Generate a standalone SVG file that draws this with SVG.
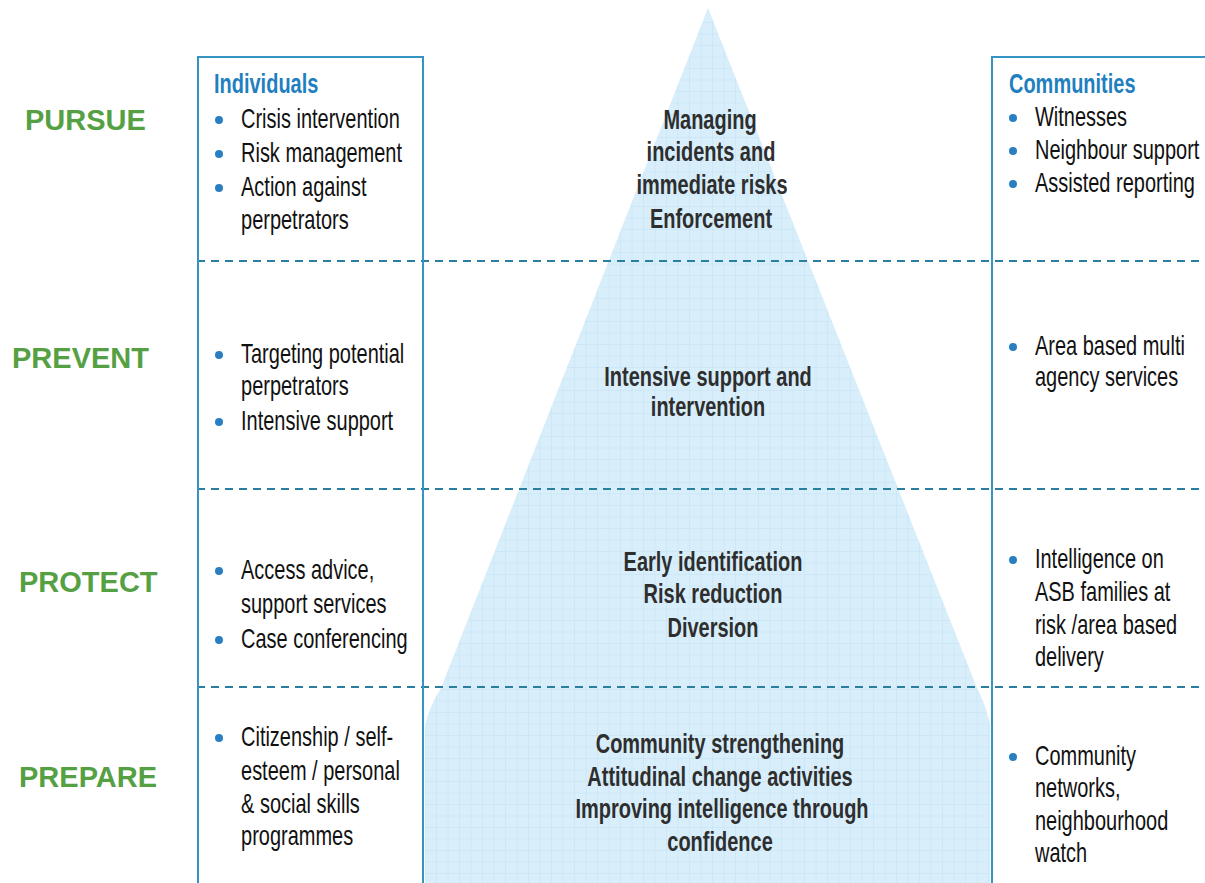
<svg xmlns="http://www.w3.org/2000/svg" width="1205" height="883" viewBox="0 0 1205 883">
<style>
.lbl{font-family:"Liberation Sans",Arial,sans-serif;font-weight:bold;font-size:29px;fill:#56a044}
.hdr{font-family:"Liberation Sans",Arial,sans-serif;font-weight:bold;font-size:27px;fill:#1f7fc0}
.txt{font-family:"Liberation Sans",Arial,sans-serif;font-size:27px;fill:#111}
.ctr{font-family:"Liberation Sans",Arial,sans-serif;font-weight:bold;font-size:27px;fill:#2e2e2e;text-anchor:middle}
.dot{fill:#2a7fc0}
.box{fill:none;stroke:#3594c4;stroke-width:2}
.dash{stroke:#2b7f9e;stroke-width:2;stroke-dasharray:8 6;fill:none}
</style>
<defs>
<pattern id="grid" x="0" y="0" width="11.5" height="11.5" patternUnits="userSpaceOnUse">
<rect width="11.5" height="11.5" fill="#d9eefb"/>
<path d="M11.5 0V11.5M0 11.5H11.5" stroke="#c3e1f3" stroke-width="1" fill="none"/>
</pattern>
</defs>
<rect width="1205" height="883" fill="#ffffff"/>
<g id="pyramid">
<path d="M708 8 L441 688 Q430 705 425 725 L425 883 L990 883 L990 725 Q986 705 977 688 Z" fill="url(#grid)"/>
</g>
<g id="connectors">
<line class="dash" x1="197" y1="261" x2="1205" y2="261"/>
<line class="dash" x1="197" y1="489" x2="1205" y2="489"/>
<line class="dash" x1="197" y1="687" x2="1205" y2="687"/>
</g>
<g id="labels">
<text class="lbl" x="25" y="130">PURSUE</text>
<text class="lbl" x="12" y="368">PREVENT</text>
<text class="lbl" x="19" y="592">PROTECT</text>
<text class="lbl" x="19" y="787">PREPARE</text>
</g>
<g id="individuals">
<path class="box" d="M198 884 V57 H423 V884"/>
<circle class="dot" cx="219" cy="120" r="4"/>
<circle class="dot" cx="219" cy="154" r="4"/>
<circle class="dot" cx="219" cy="188" r="4"/>
<circle class="dot" cx="219" cy="355" r="4"/>
<circle class="dot" cx="219" cy="422" r="4"/>
<circle class="dot" cx="219" cy="571" r="4"/>
<circle class="dot" cx="219" cy="640" r="4"/>
<circle class="dot" cx="219" cy="738" r="4"/>
<g transform="scale(0.74 1)">
<text class="hdr" x="289.2" y="93">Individuals</text>
<text class="txt" x="325.7" y="128">Crisis intervention</text>
<text class="txt" x="325.7" y="162">Risk management</text>
<text class="txt" x="325.7" y="196">Action against</text>
<text class="txt" x="325.7" y="229">perpetrators</text>
<text class="txt" x="325.7" y="363">Targeting potential</text>
<text class="txt" x="325.7" y="395">perpetrators</text>
<text class="txt" x="325.7" y="430">Intensive support</text>
<text class="txt" x="325.7" y="579">Access advice,</text>
<text class="txt" x="325.7" y="613">support services</text>
<text class="txt" x="325.7" y="648">Case conferencing</text>
<text class="txt" x="325.7" y="746">Citizenship / self-</text>
<text class="txt" x="325.7" y="780">esteem / personal</text>
<text class="txt" x="325.7" y="813">&amp; social skills</text>
<text class="txt" x="325.7" y="845">programmes</text>
</g>
</g>
<g id="communities">
<path class="box" d="M992 884 V57 H1206"/>
<circle class="dot" cx="1013" cy="118" r="4"/>
<circle class="dot" cx="1013" cy="151" r="4"/>
<circle class="dot" cx="1013" cy="184" r="4"/>
<circle class="dot" cx="1013" cy="347" r="4"/>
<circle class="dot" cx="1013" cy="560" r="4"/>
<circle class="dot" cx="1013" cy="757" r="4"/>
<g transform="scale(0.74 1)">
<text class="hdr" x="1363.5" y="93">Communities</text>
<text class="txt" x="1398.6" y="126">Witnesses</text>
<text class="txt" x="1398.6" y="159">Neighbour support</text>
<text class="txt" x="1398.6" y="192">Assisted reporting</text>
<text class="txt" x="1398.6" y="355">Area based multi</text>
<text class="txt" x="1398.6" y="386">agency services</text>
<text class="txt" x="1398.6" y="568">Intelligence on</text>
<text class="txt" x="1398.6" y="601">ASB families at</text>
<text class="txt" x="1398.6" y="634">risk /area based</text>
<text class="txt" x="1398.6" y="666">delivery</text>
<text class="txt" x="1398.6" y="765">Community</text>
<text class="txt" x="1398.6" y="797">networks,</text>
<text class="txt" x="1398.6" y="830">neighbourhood</text>
<text class="txt" x="1398.6" y="862">watch</text>
</g>
</g>
<g id="center">
<g transform="scale(0.74 1)">
<text class="ctr" x="959.5" y="129">Managing</text>
<text class="ctr" x="960.8" y="161">incidents and</text>
<text class="ctr" x="962.2" y="194">immediate risks</text>
<text class="ctr" x="960.8" y="228">Enforcement</text>
<text class="ctr" x="956.8" y="386">Intensive support and</text>
<text class="ctr" x="956.8" y="416">intervention</text>
<text class="ctr" x="963.5" y="571">Early identification</text>
<text class="ctr" x="963.5" y="603">Risk reduction</text>
<text class="ctr" x="963.5" y="637">Diversion</text>
<text class="ctr" x="973" y="753">Community strengthening</text>
<text class="ctr" x="973" y="786">Attitudinal change activities</text>
<text class="ctr" x="975.7" y="818">Improving intelligence through</text>
<text class="ctr" x="973" y="851">confidence</text>
</g>
</g>
</svg>
